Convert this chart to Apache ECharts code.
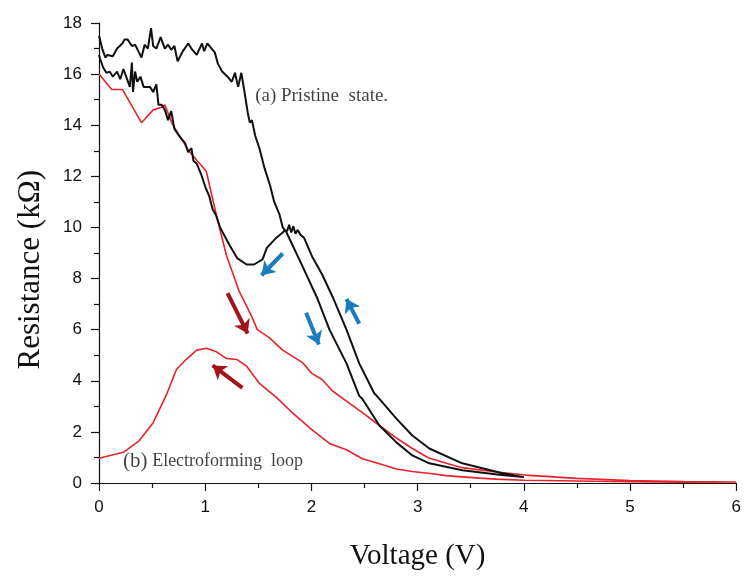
<!DOCTYPE html>
<html>
<head>
<meta charset="utf-8">
<script src="https://cdn.jsdelivr.net/npm/echarts@6/dist/echarts.min.js"></script>
<style>html,body{margin:0;padding:0;background:#fff}#c{width:744px;height:576px}</style>
</head>
<body>
<div id="c"></div>
<script>
// Black loop (a) pristine state: voltage (V), resistance (kΩ), in sweep order
const blackV = [0,0.01,0.03,0.06,0.08,0.13,0.17,0.22,0.24,0.27,0.31,0.34,0.37,0.4,0.43,0.46,0.49,0.51,0.54,0.58,0.62,0.65,0.68,0.71,0.74,0.79,0.84,0.87,0.92,0.97,0.99,1.02,1.06,1.09,1.12,1.16,1.21,1.25,1.28,1.31,1.34,1.37,1.4,1.42,1.44,1.47,1.51,1.56,1.61,1.65,1.7,1.73,1.76,
  1.8,1.89,2.05,2.17,2.33,2.45,2.48,2.64,2.8,2.95,3.11,3.42,3.79,4.0,
  4.0,3.79,3.42,3.11,2.95,2.8,2.64,2.59,2.45,2.33,2.2,2.1,2.01,1.93,1.9,1.87,1.85,1.83,1.81,1.79,1.77,1.75,
  1.73,1.67,1.58,1.54,1.46,1.39,1.3,1.23,1.14,1.1,1.07,1.04,1.0,0.96,0.92,0.89,0.87,0.84,0.81,0.76,0.71,0.68,0.65,0.62,0.59,0.56,0.54,0.51,0.48,0.45,0.42,0.39,0.36,0.34,0.32,0.31,0.29,0.26,0.23,0.2,0.17,0.13,0.1,0.07,0.04,0.01,0];
const blackR = [17.5,17.35,17.0,16.65,16.75,16.7,17.0,17.2,17.35,17.35,17.1,17.15,16.9,16.65,17.15,17.0,17.8,17.1,17.0,17.45,17.0,17.15,16.95,17.1,16.5,16.9,17.2,17.0,16.75,17.2,16.9,17.2,17.0,16.85,16.4,16.1,15.9,15.7,16.05,15.5,16.05,15.3,14.5,14.1,14.2,13.6,13.1,12.3,11.65,11.0,10.5,10.0,9.85,
  9.5,8.71,7.28,6.0,4.68,3.41,3.29,2.25,1.59,1.08,0.77,0.5,0.31,0.23,
  0.3,0.39,0.77,1.35,1.86,2.52,3.29,3.52,4.68,6.0,7.28,8.17,8.83,9.6,9.7,9.9,9.75,10.05,9.8,10.1,9.85,9.9,
  9.8,9.6,9.2,8.75,8.55,8.55,8.8,9.3,10.0,10.5,10.7,11.2,11.6,12.1,12.5,12.6,13.1,12.95,13.3,13.55,13.85,14.55,14.2,14.6,14.8,14.8,15.6,15.3,15.5,15.5,15.5,15.9,15.7,16.1,15.3,16.45,15.5,15.85,16.2,15.8,16.1,15.9,16.1,16.05,16.25,16.6,16.75];

// Red loop (b) electroforming: forward sweep then return sweep
const redV = [0,0.12,0.22,0.4,0.51,0.59,0.62,0.69,0.85,1.01,1.11,1.2,1.32,1.44,1.49,1.6,1.73,1.92,2.0,2.1,2.2,2.33,2.48,2.64,2.8,2.95,3.1,3.27,3.42,3.74,4.02,4.5,5.0,5.5,6.0,
  6.0,5.5,5.0,4.5,4.0,3.74,3.58,3.27,3.1,2.95,2.8,2.64,2.48,2.33,2.17,2.0,1.82,1.67,1.51,1.39,1.3,1.2,1.1,1.01,0.92,0.83,0.73,0.64,0.51,0.38,0.23,0];
const redR = [16.0,15.4,15.4,14.1,14.6,14.7,14.8,14.05,12.97,12.2,10.4,8.9,7.5,6.5,6.0,5.7,5.2,4.7,4.3,4.05,3.6,3.2,2.75,2.25,1.76,1.35,0.99,0.77,0.6,0.43,0.31,0.18,0.1,0.06,0.04,
  0.02,0.03,0.05,0.08,0.11,0.15,0.19,0.29,0.38,0.45,0.55,0.75,0.95,1.3,1.55,2.1,2.75,3.35,3.9,4.57,4.83,4.87,5.15,5.27,5.2,4.87,4.45,3.5,2.36,1.66,1.2,0.97];

// Direction arrows [tailV, tailR, headV, headR]
const blueArrows = [[1.73,8.98,1.53,8.13],[1.95,6.66,2.07,5.42],[2.45,6.23,2.33,7.2]];
const redArrows = [[1.21,7.43,1.4,5.85],[1.35,3.72,1.07,4.6]];

// Annotations [V, R, text]
const notes = [[1.47,15.14,'(a) Pristine  state.'],[0.225,0.85,'{b|(b)} {e|Electroforming  loop}']];

const xTicks = {min:0,max:6,interval:1};
const yTicks = {min:0,max:18,interval:2};
const xTitle = 'Voltage (V)';
const yTitle = 'Resistance (kΩ)';

function zip(a,b){return a.map((v,i)=>[v,b[i]]);}

const chart = echarts.init(document.getElementById('c'),null,{renderer:'canvas'});
const axisCommon = {
  axisLine:{show:true,lineStyle:{color:'#111',width:1.2}},
  axisTick:{show:true,inside:false,length:8,lineStyle:{color:'#111',width:1.2}},
  minorTick:{show:true,splitNumber:2,length:5,lineStyle:{color:'#111',width:1.2}},
  splitLine:{show:false},
  axisLabel:{color:'#111',fontSize:17,fontFamily:'Liberation Sans'}
};
chart.setOption({
  animation:false,
  backgroundColor:'#fff',
  grid:{left:99,right:6,top:23,bottom:88},
  graphic:[{type:'text',left:15,top:170,rotation:Math.PI/2,
    style:{text:yTitle,fontSize:31,fontFamily:'Liberation Serif',fill:'#111'}}],
  xAxis:Object.assign({type:'value',min:xTicks.min,max:xTicks.max,interval:xTicks.interval,
    name:xTitle,nameLocation:'middle',nameGap:59,
    nameTextStyle:{color:'#111',fontSize:29,fontFamily:'Liberation Serif'}},axisCommon,
    {axisLabel:Object.assign({},axisCommon.axisLabel,{margin:16})}),
  yAxis:Object.assign({type:'value',min:yTicks.min,max:yTicks.max,interval:yTicks.interval},axisCommon,
    {axisLabel:Object.assign({},axisCommon.axisLabel,{margin:17})}),
  series:[
    {type:'line',data:zip(redV,redR),symbol:'none',lineStyle:{color:'#e5232a',width:1.6},z:3},
    {type:'line',data:zip(blackV,blackR),symbol:'none',lineStyle:{color:'#111',width:2},z:4},
    {type:'lines',coordinateSystem:'cartesian2d',z:5,
      data:blueArrows.map(a=>({coords:[[a[0],a[1]],[a[2],a[3]]]})),
      symbol:['none','arrow'],symbolSize:13,
      lineStyle:{color:'#1b7cc0',width:4,opacity:1,curveness:0}},
    {type:'lines',coordinateSystem:'cartesian2d',z:5,
      data:redArrows.map(a=>({coords:[[a[0],a[1]],[a[2],a[3]]]})),
      symbol:['none','arrow'],symbolSize:13,
      lineStyle:{color:'#a3141b',width:4,opacity:1,curveness:0}},
    {type:'scatter',symbolSize:0,z:6,silent:true,
      data:notes.map(n=>({value:[n[0],n[1]],label:{formatter:n[2]}})),
      label:{show:true,position:'right',distance:0,color:'#111',fontFamily:'Liberation Serif',fontSize:19,
        rich:{b:{fontSize:21,fontFamily:'Liberation Serif',color:'#111'},e:{fontSize:18,fontFamily:'Liberation Serif',color:'#111'}}}}
  ]
});
</script>
</body>
</html>
